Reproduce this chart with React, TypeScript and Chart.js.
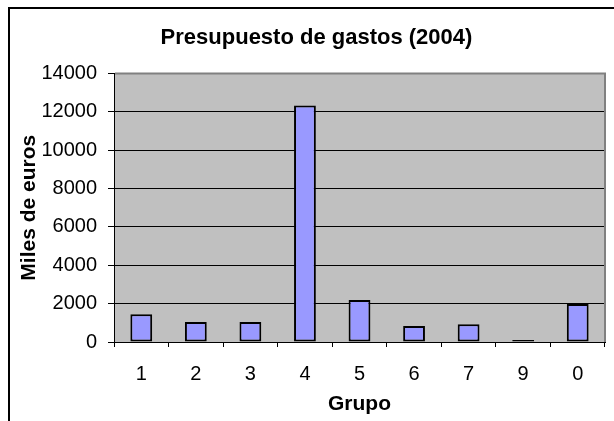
import React, { useEffect, useRef } from "react";
import { Chart, registerables } from "chart.js";

Chart.register(...registerables);

const categories = ["1", "2", "3", "4", "5", "6", "7", "9", "0"];
const values = [1440, 1040, 1040, 12330, 2190, 830, 930, 100, 1980];
const yMin = 0;
const yMax = 14000;
const yStep = 2000;
const chartTitle = "Presupuesto de gastos (2004)";
const xTitle = "Grupo";
const yTitle = "Miles de euros";

const FONT = "'Liberation Sans', Arial, sans-serif";

const decorPlugin = {
  id: "decor",
  beforeDraw(chart: any) {
    const { ctx, chartArea: a } = chart;
    ctx.save();
    ctx.fillStyle = "#ffffff";
    ctx.fillRect(0, 0, chart.width, chart.height);
    ctx.strokeStyle = "#000000";
    ctx.lineWidth = 2;
    ctx.beginPath();
    ctx.moveTo(9, chart.height);
    ctx.lineTo(9, 8);
    ctx.lineTo(chart.width, 8);
    ctx.stroke();
    ctx.fillStyle = "#C0C0C0";
    ctx.fillRect(a.left, a.top, a.right - a.left, a.bottom - a.top);
    ctx.restore();
  },
  beforeDatasetsDraw(chart: any) {
    const { ctx, chartArea: a } = chart;
    ctx.save();
    ctx.strokeStyle = "#808080";
    ctx.lineWidth = 2;
    ctx.beginPath();
    ctx.moveTo(a.left + 1, a.top);
    ctx.lineTo(a.right, a.top);
    ctx.lineTo(a.right, a.bottom);
    ctx.stroke();
    ctx.restore();
  },
};

export default function App() {
  const ref = useRef<HTMLCanvasElement | null>(null);

  useEffect(() => {
    if (!ref.current) return;
    const chart = new Chart(ref.current, {
      type: "bar",
      data: {
        labels: categories,
        datasets: [
          {
            data: values,
            backgroundColor: "#9999FF",
            borderColor: "#000000",
            borderWidth: 2,
            borderSkipped: false,
            categoryPercentage: 0.4,
            barPercentage: 1,
          },
        ],
      },
      plugins: [decorPlugin],
      options: {
        animation: false,
        responsive: false,
        devicePixelRatio: 1,
        layout: { padding: { left: 28, right: 9, top: 0, bottom: 0 } },
        plugins: {
          legend: { display: false },
          tooltip: { enabled: false },
          title: {
            display: true,
            text: chartTitle,
            color: "#000",
            font: { family: FONT, size: 22, weight: "bold" },
            padding: { top: 25, bottom: 22 },
          },
        },
        scales: {
          x: {
            grid: {
              offset: true,
              drawOnChartArea: false,
              drawTicks: true,
              tickLength: 5,
              color: "#000",
            },
            border: { color: "#000", width: 1 },
            ticks: {
              color: "#000",
              padding: 15,
              font: { family: FONT, size: 20 },
              maxRotation: 0,
            },
            title: {
              display: true,
              text: xTitle,
              color: "#000",
              font: { family: FONT, size: 21, weight: "bold" },
              padding: { top: 0, bottom: 4 },
            },
            afterFit(scale: any) {
              scale.height = 79;
            },
          },
          y: {
            min: yMin,
            max: yMax,
            grid: {
              color: "#000",
              lineWidth: 1,
              drawTicks: true,
              tickLength: 6,
            },
            border: { color: "#000", width: 1 },
            ticks: {
              stepSize: yStep,
              color: "#000",
              padding: 11,
              font: { family: FONT, size: 20 },
              callback: (v: any) => String(v),
            },
            title: {
              display: true,
              text: yTitle,
              color: "#000",
              font: { family: FONT, size: 21, weight: "bold" },
              padding: { top: -11.6, bottom: 0 },
            },
            afterFit(scale: any) {
              scale.width = 86;
            },
          },
        },
      },
    });
    return () => chart.destroy();
  }, []);

  return (
    <div style={{ position: "fixed", left: 0, top: 0, width: 614, height: 421 }}>
      <canvas ref={ref} width={614} height={421} style={{ display: "block" }} />
    </div>
  );
}
